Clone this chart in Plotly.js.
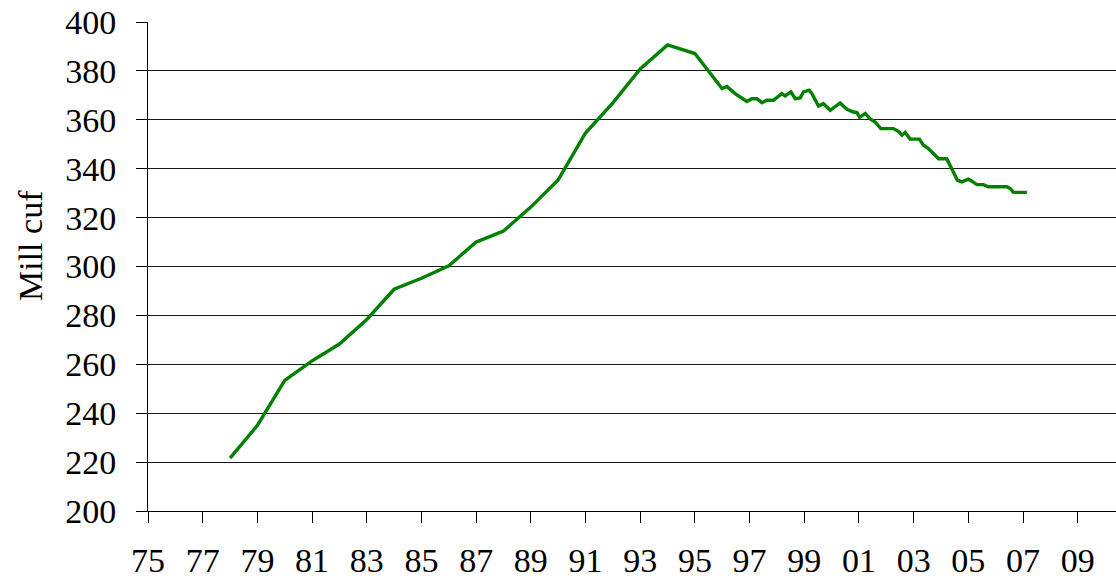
<!DOCTYPE html>
<html>
<head>
<meta charset="utf-8">
<script src="https://cdn.plot.ly/plotly-3.0.1.min.js"></script>
<style>
  html, body { margin: 0; padding: 0; background: #fff; }
  #chart { width: 1116px; height: 580px; }
</style>
</head>
<body>
<div id="chart"></div>
<script>
// Years (decimal) and values in million cubic feet
const years = [
  1978, 1979, 1980, 1981, 1982, 1983, 1984, 1985, 1986, 1987, 1988, 1989,
  1990, 1991, 1992, 1993, 1994, 1995,
  1995.99, 1996.17, 1996.47, 1996.66, 1996.90, 1997.08, 1997.27, 1997.45,
  1997.63, 1997.87, 1998.18, 1998.30, 1998.51, 1998.67, 1998.85, 1998.97,
  1999.18, 1999.28, 1999.52, 1999.70, 1999.95, 2000.31, 2000.56, 2000.80,
  2000.92, 2001.03, 2001.23, 2001.41, 2001.59, 2001.80, 2002.26, 2002.44,
  2002.57, 2002.69, 2002.87, 2003.21, 2003.36, 2003.54, 2003.72, 2003.91,
  2004.21, 2004.33, 2004.46, 2004.60, 2004.76, 2005.00, 2005.13, 2005.31,
  2005.55, 2005.73, 2006.41, 2006.53, 2006.65, 2007.14
];
const millCuf = [
  221.6, 235.0, 253.4, 261.4, 268.3, 278.3, 290.7, 295.2, 300.3, 310.0, 314.5, 324.3,
  335.4, 354.6, 366.9, 380.8, 390.6, 387.1,
  372.8, 373.6, 370.7, 369.3, 367.5, 368.6, 368.6, 367.0,
  368.0, 368.0, 370.7, 369.8, 371.4, 368.6, 368.9, 371.4,
  372.1, 370.7, 365.6, 366.6, 363.9, 366.9, 364.3, 363.2,
  363.0, 361.0, 362.6, 360.4, 359.1, 356.4, 356.4, 355.3,
  353.7, 354.8, 352.1, 352.1, 349.6, 348.2, 346.2, 344.1,
  344.1, 341.4, 338.0, 335.3, 334.6, 335.7, 334.9, 333.5,
  333.5, 332.6, 332.6, 331.9, 330.3, 330.3
];
const tickYears = [1975, 1977, 1979, 1981, 1983, 1985, 1987, 1989, 1991, 1993,
                   1995, 1997, 1999, 2001, 2003, 2005, 2007, 2009];
const tickLabels = ["75", "77", "79", "81", "83", "85", "87", "89", "91", "93",
                    "95", "97", "99", "01", "03", "05", "07", "09"];
const yTitle = "Mill cuf";

const fontFam = "Liberation Serif, Times New Roman, serif";

const trace = {
  x: years,
  y: millCuf,
  type: "scatter",
  mode: "lines",
  line: { color: "#008000", width: 3.4 },
  hoverinfo: "x+y"
};

const layout = {
  width: 1116,
  height: 580,
  margin: { l: 148, r: 0, t: 22, b: 69, pad: 0 },
  paper_bgcolor: "#ffffff",
  plot_bgcolor: "#ffffff",
  showlegend: false,
  font: { family: fontFam, size: 34, color: "#000" },
  xaxis: {
    range: [1975, 2010.4],
    tickmode: "array",
    tickvals: tickYears,
    ticktext: tickLabels,
    ticks: "outside",
    ticklen: 11,
    tickwidth: 1,
    tickcolor: "#000",
    showline: true,
    linecolor: "#000",
    linewidth: 1,
    showgrid: false,
    zeroline: false,
    ticklabelstandoff: 8,
    tickfont: { family: fontFam, size: 34, color: "#000" }
  },
  yaxis: {
    range: [200, 400],
    tickmode: "linear",
    tick0: 200,
    dtick: 20,
    ticks: "outside",
    ticklen: 11,
    tickwidth: 1,
    tickcolor: "#000",
    showline: true,
    linecolor: "#000",
    linewidth: 1,
    showgrid: true,
    gridcolor: "#1a1a1a",
    gridwidth: 1,
    zeroline: false,
    ticklabelstandoff: 13,
    tickfont: { family: fontFam, size: 34, color: "#000" }
  },
  annotations: [{
    text: yTitle,
    xref: "paper", yref: "paper",
    x: (31 - 148) / 968, y: (511 - 246) / 489,
    xanchor: "center", yanchor: "middle",
    textangle: -90,
    showarrow: false,
    font: { family: fontFam, size: 34, color: "#000" }
  }]
};

Plotly.newPlot("chart", [trace], layout, { displayModeBar: false, staticPlot: true });
</script>
</body>
</html>
